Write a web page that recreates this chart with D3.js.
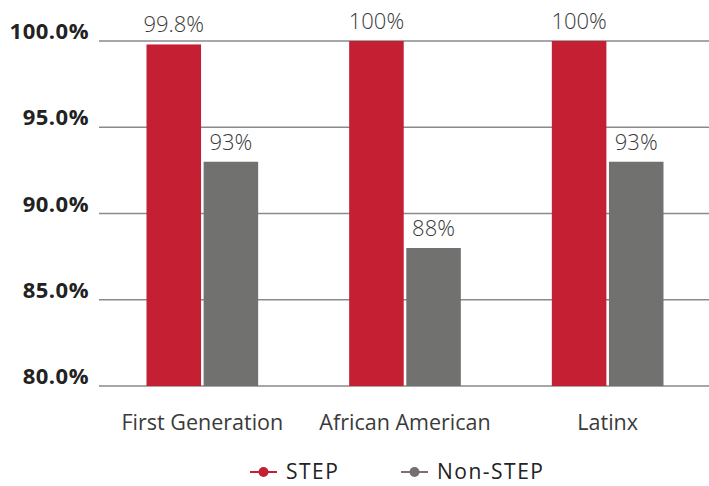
<!DOCTYPE html>
<html>
<head>
<meta charset="utf-8">
<script src="https://cdn.jsdelivr.net/npm/d3@7"></script>
<style>
  body { margin: 0; background: #fff; }
  svg { display: block; font-family: "Open Sans", sans-serif; }
</style>
</head>
<body>
<svg id="chart" width="709" height="486"></svg>
<script>
// Graduation rates by group, STEP vs. Non-STEP
const categories = ["First Generation", "African American", "Latinx"];
const seriesNames = ["STEP", "Non-STEP"];
const stepValues = [99.8, 100, 100];
const nonStepValues = [93, 88, 93];
const valueLabels = [["99.8%", "100%", "100%"], ["93%", "88%", "93%"]];
const yTicks = [80, 85, 90, 95, 100];
const yTickLabels = ["80.0%", "85.0%", "90.0%", "95.0%", "100.0%"];
const colors = ["#c41f33", "#717270"];

const svg = d3.select("#chart");
const margin = { left: 101, right: 0 };
const width = 709;

const x0 = d3.scaleBand()
  .domain(categories)
  .range([margin.left, width - margin.right])
  .paddingInner(0)
  .paddingOuter(0);

const x1 = d3.scaleBand()
  .domain(seriesNames)
  .range([45.5, x0.bandwidth() - 45.5])
  .paddingInner(0.045);

const y = d3.scaleLinear()
  .domain([80, 100])
  .range([386, 41]);

// Horizontal gridlines
svg.append("g")
  .selectAll("line")
  .data(yTicks)
  .join("line")
  .attr("x1", 99)
  .attr("x2", width)
  .attr("y1", d => y(d))
  .attr("y2", d => y(d))
  .attr("stroke", "#8a8a8a")
  .attr("stroke-width", 1.5);

// Y axis labels
const yAxis = d3.axisLeft(y)
  .tickValues(yTicks)
  .tickFormat((d, i) => yTickLabels[i])
  .tickSize(0)
  .tickPadding(0);
const yg = svg.append("g")
  .attr("transform", "translate(89,0)")
  .call(yAxis);
yg.select(".domain").remove();
yg.selectAll("text")
  .attr("font-family", "'Open Sans', sans-serif")
  .attr("font-size", 22)
  .attr("font-weight", 700)
  .attr("fill", "#222")
  .attr("letter-spacing", 0.5)
  .attr("dy", -2.5);

const series = [stepValues, nonStepValues];
const data = [];
categories.forEach((c, ci) => {
  seriesNames.forEach((s, si) => {
    data.push({ cat: c, series: s, si, value: series[si][ci], label: valueLabels[si][ci] });
  });
});

// Bars
svg.append("g")
  .selectAll("rect")
  .data(data)
  .join("rect")
  .attr("x", d => x0(d.cat) + x1(d.series))
  .attr("width", x1.bandwidth())
  .attr("y", d => y(d.value))
  .attr("height", d => y(80) - y(d.value))
  .attr("fill", d => colors[d.si]);

// Value labels
svg.append("g")
  .selectAll("text")
  .data(data)
  .join("text")
  .attr("x", d => x0(d.cat) + x1(d.series) + x1.bandwidth() / 2)
  .attr("y", d => y(d.value) - 12)
  .attr("text-anchor", "middle")
  .attr("font-size", 22)
  .attr("font-weight", 300)
  .attr("fill", "#3a3a3a")
  .text(d => d.label);

// Category labels
const xAxis = d3.axisBottom(x0).tickSize(0).tickPadding(0);
const xg = svg.append("g")
  .attr("transform", "translate(0,430)")
  .call(xAxis);
xg.select(".domain").remove();
xg.selectAll("text")
  .attr("font-family", "'Open Sans', sans-serif")
  .attr("font-size", 21.5)
  .attr("font-weight", 400)
  .attr("fill", "#3a3a3a")
  .attr("y", 0)
  .attr("dy", 0);

// Legend
const legendItems = [
  { name: "STEP", x: 250, color: colors[0], line: colors[0] },
  { name: "Non-STEP", x: 401, color: colors[1], line: "#7f6f6f" }
];
const lg = svg.append("g")
  .selectAll("g")
  .data(legendItems)
  .join("g")
  .attr("transform", d => `translate(${d.x},472)`);
lg.append("line")
  .attr("x1", 0).attr("x2", 27)
  .attr("stroke", d => d.line)
  .attr("stroke-width", 2);
lg.append("circle")
  .attr("cx", 13.5)
  .attr("r", 5)
  .attr("fill", d => d.color);
lg.append("text")
  .attr("x", 36)
  .attr("y", 6.5)
  .attr("font-size", 21)
  .attr("letter-spacing", 1.5)
  .attr("fill", "#222")
  .text(d => d.name);
</script>
</body>
</html>
